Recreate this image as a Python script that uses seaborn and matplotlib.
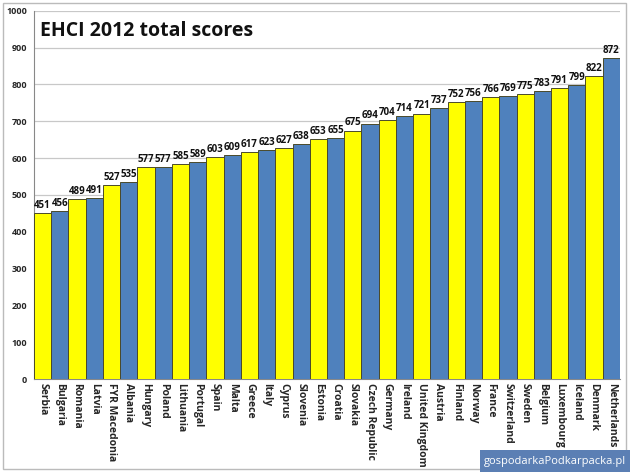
import matplotlib
matplotlib.use('Agg')
import matplotlib.pyplot as plt
import seaborn as sns
from matplotlib.patches import Rectangle

# EHCI 2012 total scores
countries = ['Serbia', 'Bulgaria', 'Romania', 'Latvia', 'FYR Macedonia', 'Albania',
             'Hungary', 'Poland', 'Lithuania', 'Portugal', 'Spain', 'Malta', 'Greece',
             'Italy', 'Cyprus', 'Slovenia', 'Estonia', 'Croatia', 'Slovakia',
             'Czech Republic', 'Germany', 'Ireland', 'United Kingdom', 'Austria',
             'Finland', 'Norway', 'France', 'Switzerland', 'Sweden', 'Belgium',
             'Luxembourg', 'Iceland', 'Denmark', 'Netherlands']
scores = [451, 456, 489, 491, 527, 535, 577, 577, 585, 589, 603, 609, 617, 623, 627,
          638, 653, 655, 675, 694, 704, 714, 721, 737, 752, 756, 766, 769, 775, 783,
          791, 799, 822, 872]
y_ticks = list(range(0, 1001, 100))

yellow = '#FFFF00'
blue = '#4F81BD'
colors = [yellow if i % 2 == 0 else blue for i in range(len(countries))]

sns.set_style('white')
plt.rcParams['font.family'] = ['Open Sans', 'DejaVu Sans']

fig = plt.figure(figsize=(6.3, 4.72), dpi=100)
ax = fig.add_axes([0.054, 0.197, 0.930, 0.780])

sns.barplot(x=countries, y=scores, hue=countries, palette=colors, legend=False,
            saturation=1, width=1.0, edgecolor='#4a4a2a', linewidth=0.7, ax=ax, zorder=3)

for c in ax.containers:
    ax.bar_label(c, fontsize=7, fontweight='bold', padding=1.5, color='#111111')

ax.set_xlim(-0.5, len(countries) - 0.5)
ax.set_ylim(0, 1000)
ax.set_yticks(y_ticks)
ax.set_yticklabels([str(v) for v in y_ticks], fontsize=6.5, fontweight='bold')
ax.yaxis.grid(True, color='#c8c8c8', linewidth=0.9, zorder=0)
ax.set_axisbelow(True)
ax.tick_params(axis='y', length=3, color='#888888', pad=2)
ax.tick_params(axis='x', length=0, pad=3)
plt.setp(ax.get_xticklabels(), rotation=270, fontsize=7.5, fontweight='bold',
         ha='center', va='top')
ax.set_xlabel('')
ax.set_ylabel('')
for s in ['top', 'right']:
    ax.spines[s].set_visible(False)
for s in ['left', 'bottom']:
    ax.spines[s].set_color('#888888')
    ax.spines[s].set_linewidth(0.8)

ax.text(0.01, 0.972, 'EHCI 2012 total scores', transform=ax.transAxes,
        fontsize=14, fontweight='bold', ha='left', va='top', color='#111111')

# figure border
fig.patches.append(Rectangle((0.004, 0.006), 0.99, 0.988, transform=fig.transFigure,
                             fill=False, edgecolor='#bbbbbb', linewidth=1.0))

# watermark
fig.patches.append(Rectangle((0.762, 0.0), 0.238, 0.047, transform=fig.transFigure,
                             facecolor='#5b7fb4', edgecolor='none'))
fig.text(0.881, 0.023, 'gospodarkaPodkarpacka.pl', color='white', fontsize=8,
         ha='center', va='center')

fig.savefig('out.png', dpi=100)
